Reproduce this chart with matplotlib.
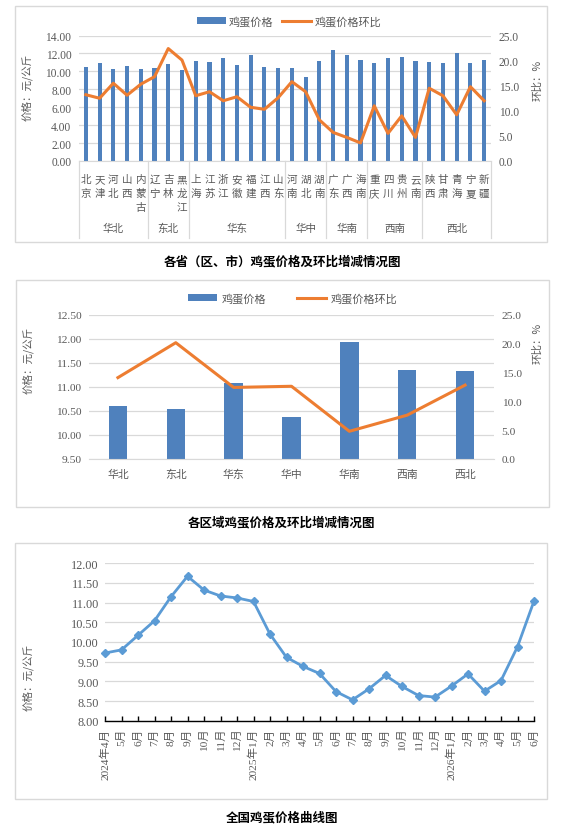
import matplotlib
matplotlib.use("Agg")
import matplotlib.pyplot as plt
import matplotlib.transforms as mtransforms
from matplotlib.patches import Rectangle
from matplotlib.lines import Line2D
from matplotlib.patches import Patch

plt.rcParams['font.family'] = ['Liberation Serif', 'Noto Sans CJK SC', 'DejaVu Sans']

# ---------------- data ----------------
provinces = ["北京", "天津", "河北", "山西", "内蒙古",
             "辽宁", "吉林", "黑龙江",
             "上海", "江苏", "浙江", "安徽", "福建", "江西", "山东",
             "河南", "湖北", "湖南",
             "广东", "广西", "海南",
             "重庆", "四川", "贵州", "云南",
             "陕西", "甘肃", "青海", "宁夏", "新疆"]
province_price = [10.47, 10.92, 10.25, 10.58, 10.25,
                  10.36, 10.80, 10.17,
                  11.14, 11.03, 11.50, 10.69, 11.88, 10.47, 10.36,
                  10.36, 9.39, 11.14,
                  12.40, 11.88, 11.25,
                  10.92, 11.44, 11.55, 11.14,
                  11.03, 10.92, 12.07, 10.92, 11.25]
province_mom = [13.2, 12.5, 15.5, 13.1, 15.3,
                16.8, 22.4, 20.1,
                13.0, 13.8, 12.0, 12.8, 10.7, 10.3, 12.6,
                15.8, 13.8, 8.2,
                5.7, 4.7, 3.6,
                11.0, 5.5, 9.0, 4.7,
                14.5, 13.0, 9.2, 14.8, 12.0]
region_names = ["华北", "东北", "华东", "华中", "华南", "西南", "西北"]
region_sizes = [5, 3, 7, 3, 3, 4, 5]

region_price = [10.60, 10.54, 11.07, 10.37, 11.94, 11.34, 11.32]
region_mom = [14.1, 20.15, 12.4, 12.6, 4.8, 7.6, 12.8]

month_labels = ["2024年4月", "5月", "6月", "7月", "8月", "9月", "10月", "11月", "12月",
                "2025年1月", "2月", "3月", "4月", "5月", "6月", "7月", "8月", "9月",
                "10月", "11月", "12月",
                "2026年1月", "2月", "3月", "4月", "5月", "6月"]
national_price = [9.72, 9.80, 10.17, 10.54, 11.15, 11.67, 11.32, 11.17, 11.12,
                  11.03, 10.20, 9.61, 9.38, 9.20, 8.74, 8.53, 8.81, 9.15,
                  8.87, 8.64, 8.60,
                  8.88, 9.19, 8.75, 9.02, 9.88, 11.04]

titles = ["各省（区、市）鸡蛋价格及环比增减情况图",
          "各区域鸡蛋价格及环比增减情况图",
          "全国鸡蛋价格曲线图"]

# ---------------- style ----------------
W, H = 577, 829
BLUE = "#4F81BD"
ORANGE = "#ED7D31"
LBLUE = "#5B9BD5"
GRID = "#D9D9D9"
TXT = "#595959"
NUMFONT = ['Liberation Serif', 'Noto Sans CJK SC']
CJK = ['Noto Sans CJK SC', 'DejaVu Sans']

fig = plt.figure(figsize=(W / 100, H / 100), dpi=100)
fig.patch.set_facecolor("white")


def rect(x0, x1, y0, y1):
    return [x0 / W, 1 - y1 / H, (x1 - x0) / W, (y1 - y0) / H]


def fy(y):
    return 1 - y / H


def box(x0, x1, y0, y1):
    fig.patches.append(Rectangle((x0 / W, 1 - y1 / H), (x1 - x0) / W, (y1 - y0) / H,
                                 transform=fig.transFigure, fill=False,
                                 edgecolor=GRID, linewidth=1.0))


def style_axes(ax, ax2=None, size=8.3):
    for s in ax.spines.values():
        s.set_visible(False)
    ax.spines['bottom'].set_visible(True)
    ax.spines['bottom'].set_color(GRID)
    ax.grid(axis='y', color=GRID, linewidth=0.9)
    ax.set_axisbelow(True)
    ax.tick_params(axis='y', length=0, pad=5.5, labelcolor=TXT, labelsize=size)
    if ax2 is not None:
        for s in ax2.spines.values():
            s.set_visible(False)
        ax2.tick_params(axis='y', length=0, pad=5.5, labelcolor=TXT, labelsize=size)


# ---------------- panel 1 ----------------
box(15, 547, 7, 243)
ax1 = fig.add_axes(rect(79, 491, 36.5, 162))
x = list(range(len(provinces)))
ax1.bar(x, province_price, width=0.3, color=BLUE, zorder=2)
ax1.set_xlim(-0.5, len(provinces) - 0.5)
ax1.set_ylim(0, 14)
ax1.set_yticks([0, 2, 4, 6, 8, 10, 12, 14])
ax1.set_yticklabels([f"{v:.2f}" for v in [0, 2, 4, 6, 8, 10, 12, 14]], fontfamily=NUMFONT)
ax1.set_xticks([])
ax1b = ax1.twinx()
ax1b.plot(x, province_mom, color=ORANGE, linewidth=2.2, zorder=3)
ax1b.set_ylim(0, 25)
ax1b.set_yticks([0, 5, 10, 15, 20, 25])
ax1b.set_yticklabels([f"{v:.1f}" for v in [0, 5, 10, 15, 20, 25]], fontfamily=NUMFONT)
style_axes(ax1, ax1b, 8.3)
ax1.set_xlim(-0.5, len(provinces) - 0.5)

tr1 = mtransforms.blended_transform_factory(ax1.transData, fig.transFigure)
for i, name in enumerate(provinces):
    for j, ch in enumerate(name):
        ax1.text(i, fy(180 + 14 * j), ch, transform=tr1, ha='center', va='center',
                 fontsize=7.6, color=TXT, fontfamily=CJK)
bounds = [-0.5]
for s in region_sizes:
    bounds.append(bounds[-1] + s)
for b in bounds:
    ax1.add_line(Line2D([b, b], [fy(162), fy(239)], transform=tr1, color=GRID,
                        linewidth=0.9, clip_on=False))
for k, name in enumerate(region_names):
    cx = (bounds[k] + bounds[k + 1]) / 2
    ax1.text(cx, fy(229), name, transform=tr1, ha='center', va='center',
             fontsize=7.6, color=TXT, fontfamily=CJK)
fig.text(27 / W, fy(87), "价格：元/公斤", rotation=90, ha='center', va='center',
         fontsize=7.6, color=TXT, fontfamily=CJK)
fig.text(537 / W, fy(80), "环比：%", rotation=90, ha='center', va='center',
         fontsize=7.6, color=TXT, fontfamily=CJK)
handles = [Patch(facecolor=BLUE, edgecolor='none'),
           Line2D([0], [0], color=ORANGE, linewidth=2.2)]
fig.legend(handles, ["鸡蛋价格", "鸡蛋价格环比"], loc='center',
           bbox_to_anchor=(289 / W, fy(22)), ncol=2, frameon=False,
           prop={'family': CJK, 'size': 8}, handlelength=2.6, handleheight=0.6,
           columnspacing=0.8, handletextpad=0.3, labelcolor=TXT)
fig.text(282 / W, fy(262), titles[0], ha='center', va='center', fontsize=9,
         fontweight='bold', color='black', fontfamily=CJK)

# ---------------- panel 2 ----------------
box(16, 549, 281, 508)
ax2 = fig.add_axes(rect(89, 494, 315.7, 460))
xr = list(range(len(region_names)))
ax2.bar(xr, region_price, width=0.32, color=BLUE, zorder=2)
ax2.set_xlim(-0.5, len(region_names) - 0.5)
ax2.set_ylim(9.5, 12.5)
yt2 = [9.5, 10.0, 10.5, 11.0, 11.5, 12.0, 12.5]
ax2.set_yticks(yt2)
ax2.set_yticklabels([f"{v:.2f}" for v in yt2], fontfamily=NUMFONT)
ax2.set_xticks(xr)
ax2.set_xticklabels(region_names, fontfamily=CJK, fontsize=7.8, color=TXT)
ax2.tick_params(axis='x', length=0, pad=7)
ax2b = ax2.twinx()
ax2b.plot(xr, region_mom, color=ORANGE, linewidth=2.2, zorder=3)
ax2b.set_ylim(0, 25)
ax2b.set_yticks([0, 5, 10, 15, 20, 25])
ax2b.set_yticklabels([f"{v:.1f}" for v in [0, 5, 10, 15, 20, 25]], fontfamily=NUMFONT)
style_axes(ax2, ax2b, 8.2)
fig.text(28 / W, fy(360), "价格：元/公斤", rotation=90, ha='center', va='center',
         fontsize=7.6, color=TXT, fontfamily=CJK)
fig.text(537 / W, fy(343), "环比：%", rotation=90, ha='center', va='center',
         fontsize=7.6, color=TXT, fontfamily=CJK)
fig.legend(handles, ["鸡蛋价格", "鸡蛋价格环比"], loc='center',
           bbox_to_anchor=(293 / W, fy(299)), ncol=2, frameon=False,
           prop={'family': CJK, 'size': 8}, handlelength=2.6, handleheight=0.6,
           columnspacing=2.8, handletextpad=0.4, labelcolor=TXT)
fig.text(281 / W, fy(523), titles[1], ha='center', va='center', fontsize=9,
         fontweight='bold', color='black', fontfamily=CJK)

# ---------------- panel 3 ----------------
box(15, 547, 544, 800)
ax3 = fig.add_axes(rect(105, 534, 564.3, 721.7))
xm = list(range(len(month_labels)))
ax3.plot(xm, national_price, color=LBLUE, linewidth=2.0, marker='D', markersize=4.5,
         markerfacecolor=LBLUE, markeredgecolor=LBLUE, zorder=3, clip_on=False)
ax3.set_xlim(0, len(month_labels) - 1)
ax3.set_ylim(8, 12)
yt3 = [8.0, 8.5, 9.0, 9.5, 10.0, 10.5, 11.0, 11.5, 12.0]
ax3.set_yticks(yt3)
ax3.set_yticklabels([f"{v:.2f}" for v in yt3], fontfamily=NUMFONT)
ax3.set_xticks(xm)
ax3.set_xticklabels(month_labels, rotation=90, fontfamily=NUMFONT, fontsize=8.2, color=TXT)
style_axes(ax3, None, 8.8)
ax3.tick_params(axis='y', pad=4.5)
ax3.spines['bottom'].set_color('black')
ax3.spines['bottom'].set_linewidth(1.0)
ax3.tick_params(axis='x', direction='in', length=3.5, width=1.0, color='black', pad=5)
fig.text(28 / W, fy(677), "价格：元/公斤", rotation=90, ha='center', va='center',
         fontsize=7.6, color=TXT, fontfamily=CJK)
fig.text(282 / W, fy(818), titles[2], ha='center', va='center', fontsize=9,
         fontweight='bold', color='black', fontfamily=CJK)

fig.savefig("out.png", dpi=100, facecolor="white")
